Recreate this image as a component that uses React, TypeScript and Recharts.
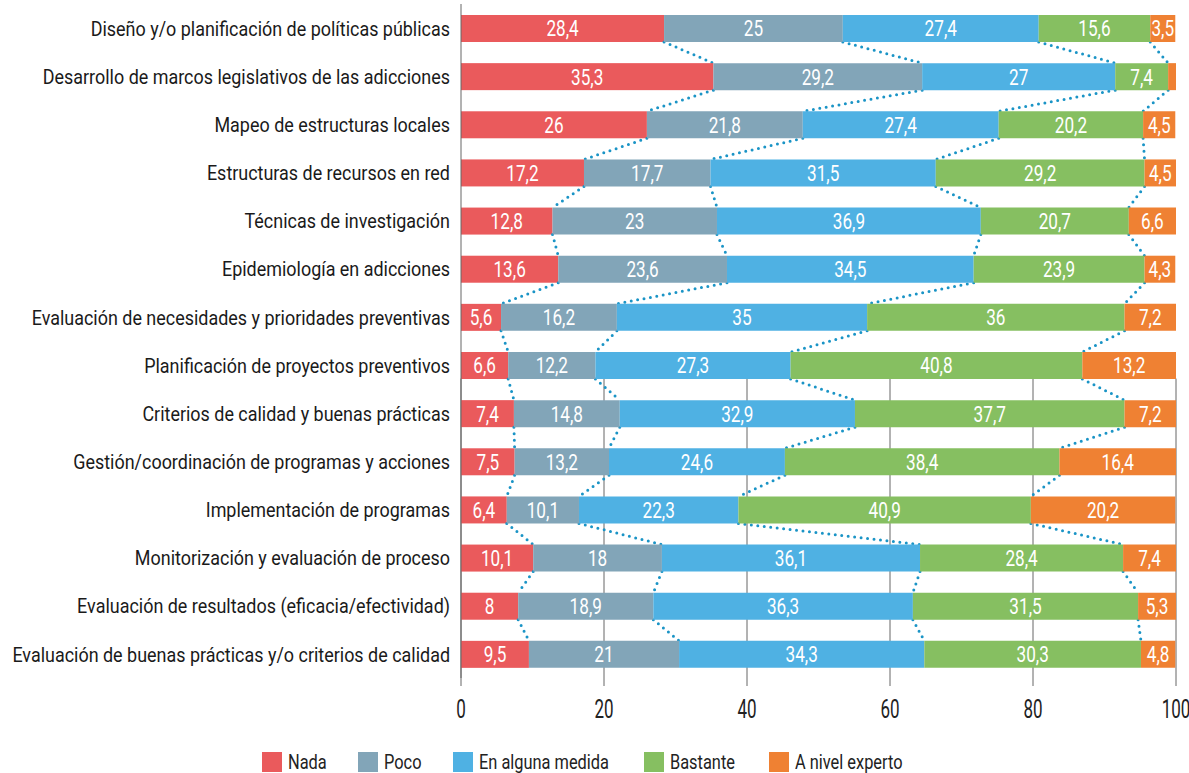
import { BarChart, Bar, XAxis, YAxis, CartesianGrid, LabelList } from 'recharts';

const categories = [
  'Diseño y/o planificación de políticas públicas',
  'Desarrollo de marcos legislativos de las adicciones',
  'Mapeo de estructuras locales',
  'Estructuras de recursos en red',
  'Técnicas de investigación',
  'Epidemiología en adicciones',
  'Evaluación de necesidades y prioridades preventivas',
  'Planificación de proyectos preventivos',
  'Criterios de calidad y buenas prácticas',
  'Gestión/coordinación de programas y acciones',
  'Implementación de programas',
  'Monitorización y evaluación de proceso',
  'Evaluación de resultados (eficacia/efectividad)',
  'Evaluación de buenas prácticas y/o criterios de calidad',
];

const nada = [28.4, 35.3, 26, 17.2, 12.8, 13.6, 5.6, 6.6, 7.4, 7.5, 6.4, 10.1, 8, 9.5];
const poco = [25, 29.2, 21.8, 17.7, 23, 23.6, 16.2, 12.2, 14.8, 13.2, 10.1, 18, 18.9, 21];
const medida = [27.4, 27, 27.4, 31.5, 36.9, 34.5, 35, 27.3, 32.9, 24.6, 22.3, 36.1, 36.3, 34.3];
const bastante = [15.6, 7.4, 20.2, 29.2, 20.7, 23.9, 36, 40.8, 37.7, 38.4, 40.9, 28.4, 31.5, 30.3];
const experto = [3.5, 1.1, 4.5, 4.5, 6.6, 4.3, 7.2, 13.2, 7.2, 16.4, 20.2, 7.4, 5.3, 4.8];

const xTicks = [0, 20, 40, 60, 80, 100];

const seriesKeys = ['nada', 'poco', 'medida', 'bastante', 'experto'];
const seriesNames = ['Nada', 'Poco', 'En alguna medida', 'Bastante', 'A nivel experto'];
const colors = ['#ea5a5c', '#82a5b8', '#4fb1e3', '#86bf61', '#ef8133'];

// no condensed font installed -> squeeze Roboto horizontally
const FONT = 'Roboto, "Noto Sans", sans-serif';
const SQUEEZE = 0.78;
const CONNECTOR = '#1a94c6';
const GRID = '#666';

const CHART_W = 1189;
const CHART_H = 730;
const MARGIN = { top: 4, right: 13, bottom: 12, left: 0 };
const X_AXIS_H = 40;
const BAR_SIZE = 27;
const PLOT_H = CHART_H - MARGIN.top - MARGIN.bottom - X_AXIS_H;
const STEP = PLOT_H / categories.length;
const LEGEND_X = [262, 358, 453, 644, 769];

const data = categories.map((name, i) => ({
  name,
  nada: nada[i],
  poco: poco[i],
  medida: medida[i],
  bastante: bastante[i],
  experto: experto[i],
}));

// running totals at the 4 inner boundaries of each row
const bounds = data.map((d) => {
  const a = d.nada;
  const b = a + d.poco;
  const c = b + d.medida;
  return [a, b, c, c + d.bastante];
});

function Squeezed({ x, y, anchor, size, fill, dy, sx = SQUEEZE, children }: any) {
  return (
    <g transform={`translate(${x},${y})`}>
      <text
        transform={`scale(${sx},1)`}
        textAnchor={anchor}
        dy={dy}
        fontSize={size}
        fontFamily={FONT}
        fill={fill}
      >
        {children}
      </text>
    </g>
  );
}

// first series draws its rect plus the dotted "series lines" down to the next row
function NadaBar(props: any) {
  const { x, y, width, height, index, fill } = props;
  const k = width / nada[index];
  const next = bounds[index + 1];
  return (
    <g>
      <rect x={x} y={y} width={width} height={height} fill={fill} />
      {next &&
        bounds[index].map((v, j) => (
          <line
            key={j}
            x1={x + v * k}
            y1={y + height}
            x2={x + next[j] * k}
            y2={y + STEP}
            stroke={CONNECTOR}
            strokeWidth={3}
            strokeDasharray="0 6.5"
            strokeLinecap="round"
          />
        ))}
    </g>
  );
}

const fmt = (v: any) => (Number(v) < 2 ? '' : String(v).replace('.', ','));

function BarLabel(props: any) {
  const { x, y, width, height, value } = props;
  const t = fmt(value);
  if (!t) return null;
  return (
    <Squeezed x={x + width / 2} y={y + height / 2} anchor="middle" size={22} fill="#fff" dy="0.36em">
      {t}
    </Squeezed>
  );
}

function CatTick(props: any) {
  const { x, y, payload } = props;
  return (
    <Squeezed x={x} y={y} anchor="end" size={21} sx={0.855} fill="#1a1a1a" dy="0.36em">
      {payload.value}
    </Squeezed>
  );
}

function NumTick(props: any) {
  const { x, y, payload } = props;
  return (
    <Squeezed x={x} y={y} anchor="middle" size={25} sx={0.68} fill="#222" dy="0.71em">
      {payload.value}
    </Squeezed>
  );
}

// gridlines only show below the "Planificación" row
const gridTop = MARGIN.top + 7 * STEP + (STEP + BAR_SIZE) / 2;
const gridBottom = MARGIN.top + PLOT_H;

export default function App() {
  return (
    <div style={{ position: 'relative', width: CHART_W, height: 773, fontFamily: FONT }}>
      <style>{'body{margin:0;overflow:hidden}.recharts-surface{overflow:visible}'}</style>
      <BarChart
        width={CHART_W}
        height={CHART_H}
        data={data}
        layout="vertical"
        margin={MARGIN}
        barSize={BAR_SIZE}
      >
        <CartesianGrid horizontal={false} stroke={GRID} strokeWidth={1} y={gridTop} height={gridBottom - gridTop} />
        <XAxis
          type="number"
          domain={[0, 100]}
          ticks={xTicks}
          allowDataOverflow
          height={X_AXIS_H}
          axisLine={false}
          tickLine={{ stroke: GRID }}
          tickSize={8}
          tickMargin={14}
          tick={<NumTick />}
        />
        <YAxis
          type="category"
          dataKey="name"
          width={461}
          interval={0}
          axisLine={{ stroke: GRID }}
          tickLine={false}
          tickSize={0}
          tickMargin={11}
          tick={<CatTick />}
        />
        {seriesKeys.map((key, i) => (
          <Bar
            key={key}
            dataKey={key}
            name={seriesNames[i]}
            stackId="a"
            fill={colors[i]}
            isAnimationActive={false}
            shape={i === 0 ? NadaBar : undefined}
          >
            <LabelList dataKey={key} content={<BarLabel />} />
          </Bar>
        ))}
      </BarChart>
      {seriesNames.map((n, i) => (
        <div
          key={n}
          style={{ position: 'absolute', top: 752, left: LEGEND_X[i], display: 'flex', alignItems: 'center', height: 20 }}
        >
          <span style={{ width: 20, height: 20, background: colors[i], display: 'inline-block' }} />
          <span
            style={{
              marginLeft: 6,
              fontSize: 21,
              color: '#222',
              whiteSpace: 'nowrap',
              display: 'inline-block',
              transform: `scaleX(${SQUEEZE})`,
              transformOrigin: 'left center',
            }}
          >
            {n}
          </span>
        </div>
      ))}
    </div>
  );
}
